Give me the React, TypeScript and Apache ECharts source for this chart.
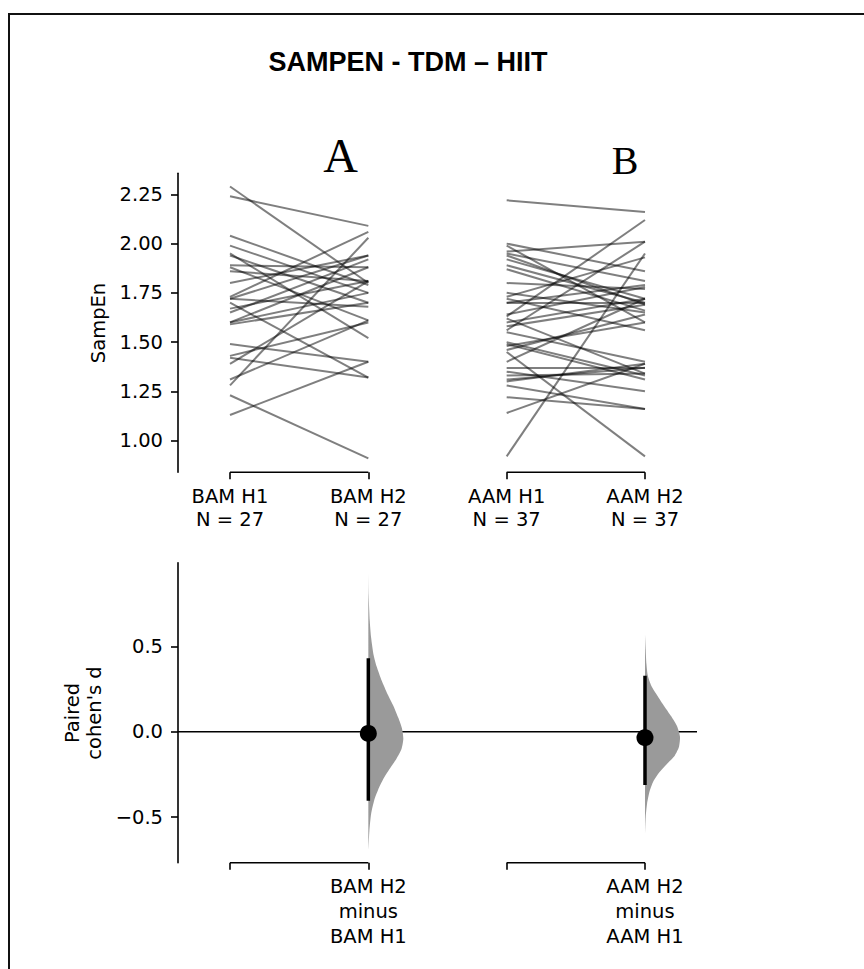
import React, { useEffect, useRef } from 'react';
import * as echarts from 'echarts';

// ---------- data ----------
const groupLabels = ['BAM H1', 'BAM H2', 'AAM H1', 'AAM H2'];
const groupN = [27, 27, 37, 37];
const deltaLabels = ['', 'BAM H2\nminus\nBAM H1', '', 'AAM H2\nminus\nAAM H1'];

const bamH1 = [2.29, 2.24, 2.04, 1.99, 1.95, 1.94, 1.89, 1.88, 1.86, 1.80, 1.73, 1.72, 1.70, 1.67, 1.65, 1.60, 1.59, 1.49, 1.43, 1.42, 1.39, 1.31, 1.28, 1.23, 1.13, 1.72, 1.60];
const bamH2 = [1.80, 2.09, 1.79, 1.75, 1.52, 1.70, 1.88, 1.61, 1.81, 1.94, 2.06, 1.68, 1.32, 1.81, 1.92, 1.88, 1.70, 1.40, 1.60, 1.32, 1.81, 1.61, 2.03, 0.91, 1.40, 1.94, 1.75];

const aamH1 = [2.22, 2.00, 1.99, 1.96, 1.95, 1.92, 1.89, 1.87, 1.80, 1.75, 1.73, 1.72, 1.70, 1.63, 1.62, 1.60, 1.58, 1.56, 1.55, 1.50, 1.49, 1.48, 1.45, 1.40, 1.37, 1.35, 1.31, 1.30, 1.28, 1.22, 1.14, 0.92, 1.64, 1.33, 1.70, 1.46, 1.94];
const aamH2 = [2.16, 1.86, 1.60, 2.01, 1.81, 1.72, 1.70, 1.66, 1.77, 1.65, 1.93, 1.56, 1.70, 2.12, 1.34, 1.72, 1.69, 2.01, 1.40, 1.33, 1.31, 1.60, 0.92, 1.72, 1.37, 1.25, 1.37, 1.39, 1.16, 1.16, 1.39, 1.95, 1.78, 1.34, 1.79, 1.64, 1.69];

const sampEnTicks = [1.0, 1.25, 1.5, 1.75, 2.0, 2.25];
const deltaTicks = [-0.5, 0, 0.5];

const effectPos = [1, 3];
const effectSize = [-0.01, -0.035];
const ciLow = [-0.404, -0.312];
const ciHigh = [0.43, 0.328];

// bootstrap distributions (value, relative density)
const bamViolinY = [0.93, 0.8, 0.65, 0.55, 0.45, 0.38, 0.3, 0.22, 0.15, 0.08, 0.02, -0.04, -0.1, -0.16, -0.22, -0.28, -0.34, -0.4, -0.48, -0.58, -0.7];
const bamViolinW = [0, 0.01, 0.04, 0.08, 0.15, 0.24, 0.38, 0.55, 0.72, 0.86, 0.96, 1.0, 0.95, 0.8, 0.6, 0.42, 0.28, 0.17, 0.08, 0.03, 0];
const aamViolinY = [0.57, 0.48, 0.4, 0.33, 0.27, 0.21, 0.15, 0.09, 0.03, -0.03, -0.09, -0.14, -0.19, -0.24, -0.29, -0.35, -0.42, -0.5, -0.61];
const aamViolinW = [0, 0.02, 0.04, 0.08, 0.18, 0.36, 0.55, 0.75, 0.92, 1.0, 0.97, 0.85, 0.62, 0.4, 0.24, 0.13, 0.06, 0.02, 0];

// bracket spans (pairs of group positions)
const bracketSpans = [[0, 1], [2, 3]];

export default function App() {
  const ref = useRef<HTMLDivElement>(null);

  useEffect(() => {
    const chart = echarts.init(ref.current as HTMLDivElement, null, { renderer: 'svg' });
    const font = 'DejaVu Sans';
    const fs = 19.5;
    const xMin = -0.376, xMax = 3.376;
    const topYMin = 0.839, topYMax = 2.357;
    const botYMin = -0.767, botYMax = 0.99;
    const axisW = 1.6;
    const violinMaxPx = 35;

    const slopeData = [
      ...bamH1.map((v, i) => ({ coords: [[0, v], [1, bamH2[i]]] })),
      ...aamH1.map((v, i) => ({ coords: [[2, v], [3, aamH2[i]]] })),
    ];
    const violins = [
      { y: bamViolinY, w: bamViolinW },
      { y: aamViolinY, w: aamViolinW },
    ];

    const xAxisBase = {
      type: 'value',
      min: xMin,
      max: xMax,
      axisLine: { show: false, onZero: false },
      splitLine: { show: false },
      axisTick: { show: true, customValues: [0, 1, 2, 3], length: 7, lineStyle: { color: '#000', width: axisW } },
    };
    const yAxisBase = {
      type: 'value',
      axisLine: { show: true, onZero: false, lineStyle: { color: '#000', width: axisW } },
      splitLine: { show: false },
    };

    const bracketSeries = (gridIdx: number, yv: number) =>
      bracketSpans.map((s) => ({
        type: 'line',
        xAxisIndex: gridIdx,
        yAxisIndex: gridIdx,
        data: [[s[0], yv], [s[1], yv]],
        symbol: 'none',
        clip: false,
        silent: true,
        lineStyle: { color: '#000', width: axisW },
        z: 3,
      }));

    const option: any = {
      animation: false,
      backgroundColor: '#fff',
      grid: [
        { left: 178, top: 173.3, width: 519, height: 299 },
        { left: 178, top: 562.7, width: 519, height: 300 },
      ],
      xAxis: [
        {
          ...xAxisBase,
          gridIndex: 0,
          axisLabel: {
            customValues: [0, 1, 2, 3],
            formatter: (v: number) => {
              const i = Math.round(v);
              return `${groupLabels[i]}\nN = ${groupN[i]}`;
            },
            margin: 12,
            fontFamily: font,
            fontSize: fs,
            lineHeight: 23.5,
            color: '#000',
          },
        },
        {
          ...xAxisBase,
          gridIndex: 1,
          axisLabel: {
            customValues: [1, 3],
            formatter: (v: number) => deltaLabels[Math.round(v)],
            margin: 11,
            fontFamily: font,
            fontSize: fs,
            lineHeight: 25,
            color: '#000',
          },
        },
      ],
      yAxis: [
        {
          ...yAxisBase,
          gridIndex: 0,
          min: topYMin,
          max: topYMax,
          axisTick: { show: true, customValues: sampEnTicks, length: 7, lineStyle: { color: '#000', width: axisW } },
          axisLabel: {
            customValues: sampEnTicks,
            formatter: (v: number) => v.toFixed(2),
            margin: 15,
            fontFamily: font,
            fontSize: fs,
            color: '#000',
          },
        },
        {
          ...yAxisBase,
          gridIndex: 1,
          min: botYMin,
          max: botYMax,
          axisTick: { show: true, customValues: deltaTicks, length: 7, lineStyle: { color: '#000', width: axisW } },
          axisLabel: {
            customValues: deltaTicks,
            formatter: (v: number) => (v < 0 ? '\u2212' + Math.abs(v).toFixed(1) : v.toFixed(1)),
            margin: 15,
            fontFamily: font,
            fontSize: fs,
            color: '#000',
          },
        },
      ],
      series: [
        {
          type: 'lines',
          coordinateSystem: 'cartesian2d',
          xAxisIndex: 0,
          yAxisIndex: 0,
          data: slopeData,
          lineStyle: { color: 'rgba(0,0,0,0.5)', width: 2, opacity: 1 },
          z: 2,
        },
        ...bracketSeries(0, topYMin),
        ...bracketSeries(1, botYMin),
        {
          type: 'line',
          xAxisIndex: 1,
          yAxisIndex: 1,
          data: [[xMin, 0], [xMax, 0]],
          symbol: 'none',
          silent: true,
          lineStyle: { color: '#000', width: 1.3 },
          z: 1,
        },
        {
          type: 'custom',
          xAxisIndex: 1,
          yAxisIndex: 1,
          data: effectPos.map((p, i) => [p, i]),
          encode: { x: 0, y: 1 },
          renderItem: (params: any, api: any) => {
            const x = api.value(0);
            const v = violins[api.value(1)];
            const pts: number[][] = [];
            pts.push(api.coord([x, v.y[0]]));
            v.y.forEach((yy, i) => {
              const c = api.coord([x, yy]);
              pts.push([c[0] + v.w[i] * violinMaxPx, c[1]]);
            });
            pts.push(api.coord([x, v.y[v.y.length - 1]]));
            return {
              type: 'polygon',
              shape: { points: pts, smooth: 0.2 },
              style: { fill: '#9a9a9a' },
            };
          },
          z: 2,
        },
        {
          type: 'custom',
          xAxisIndex: 1,
          yAxisIndex: 1,
          data: effectPos.map((p, i) => [p, ciLow[i], ciHigh[i]]),
          encode: { x: 0, y: [1, 2] },
          renderItem: (params: any, api: any) => {
            const a = api.coord([api.value(0), api.value(1)]);
            const b = api.coord([api.value(0), api.value(2)]);
            return {
              type: 'line',
              shape: { x1: a[0], y1: a[1], x2: b[0], y2: b[1] },
              style: { stroke: '#000', lineWidth: 3.5 },
            };
          },
          z: 3,
        },
        {
          type: 'scatter',
          xAxisIndex: 1,
          yAxisIndex: 1,
          data: effectPos.map((p, i) => [p, effectSize[i]]),
          symbol: 'circle',
          symbolSize: 17,
          itemStyle: { color: '#000', opacity: 1 },
          z: 4,
        },
      ],
      graphic: [
        {
          type: 'rect',
          shape: { x: 9, y: 14, width: 900, height: 1000 },
          style: { fill: 'none', stroke: '#111', lineWidth: 2 },
          z: 10,
        },
        {
          type: 'text',
          x: 408,
          y: 61.5,
          style: {
            text: 'SAMPEN - TDM \u2013 HIIT',
            fontFamily: 'Liberation Sans',
            fontWeight: 'bold',
            fontSize: 27,
            fill: '#000',
            textAlign: 'center',
            textVerticalAlign: 'middle',
          },
        },
        {
          type: 'text',
          x: 340.7,
          y: 155.5,
          style: {
            text: 'A',
            fontFamily: 'Liberation Serif',
            fontSize: 48,
            fill: '#000',
            textAlign: 'center',
            textVerticalAlign: 'middle',
          },
        },
        {
          type: 'text',
          x: 625,
          y: 160.8,
          style: {
            text: 'B',
            fontFamily: 'Liberation Serif',
            fontSize: 40,
            fill: '#000',
            textAlign: 'center',
            textVerticalAlign: 'middle',
          },
        },
        {
          type: 'text',
          x: 98,
          y: 323,
          rotation: Math.PI / 2,
          style: {
            text: 'SampEn',
            fontFamily: font,
            fontSize: fs,
            fill: '#000',
            textAlign: 'center',
            textVerticalAlign: 'middle',
          },
        },
        {
          type: 'text',
          x: 83,
          y: 713,
          rotation: Math.PI / 2,
          style: {
            text: "Paired\ncohen's d",
            fontFamily: font,
            fontSize: fs,
            lineHeight: 22,
            fill: '#000',
            textAlign: 'center',
            textVerticalAlign: 'middle',
          },
        },
      ],
    };

    chart.setOption(option);
    return () => {
      chart.dispose();
    };
  }, []);

  return (
    <div
      ref={ref}
      style={{ position: 'fixed', left: 0, top: 0, width: 864, height: 969, background: '#fff' }}
    />
  );
}
